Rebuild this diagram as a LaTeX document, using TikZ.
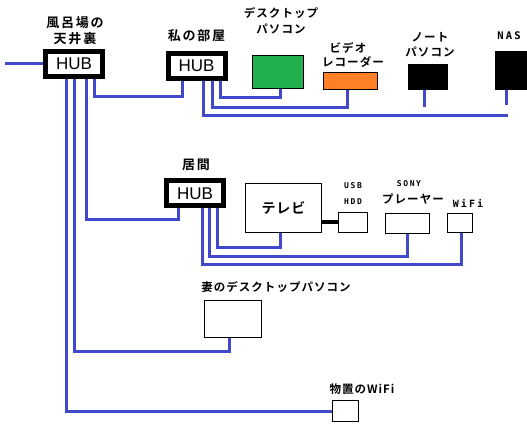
\documentclass[tikz,border=0pt]{standalone}
\usepackage{fontspec}
\setmainfont{Liberation Sans}
\newfontfamily\jpA[LetterSpace=14]{Noto Sans CJK JP Bold}
\newfontfamily\jpB[LetterSpace=9]{Noto Sans CJK JP Bold}
\newfontfamily\jpC[LetterSpace=6]{Noto Sans CJK JP Bold}
\newfontfamily\latf[LetterSpace=20]{DejaVu Sans Mono Bold}
\usetikzlibrary{calc}
\definecolor{netblue}{RGB}{64,72,204}
\definecolor{pcgreen}{RGB}{34,177,76}
\definecolor{vcrorange}{RGB}{255,127,39}
\begin{document}
\begin{tikzpicture}[x=1pt,y=-1pt,
  hub/.style={draw=black, fill=white, line width=5pt, minimum width=57pt, minimum height=25pt, inner sep=0pt, font=\fontsize{17}{17}\selectfont},
  dev/.style={draw=black, line width=1pt, inner sep=0pt, fill=white},
  net/.style={draw=netblue, line width=3pt},
  jlab/.style={inner sep=0pt, font=\jpA\fontsize{13}{13}\selectfont},
  klab/.style={inner sep=0pt, font=\jpB\fontsize{11.5}{11.5}\selectfont},
  elab/.style={inner sep=0pt, font=\latf\fontsize{8}{8}\selectfont},
]
\useasboundingbox[fill=white] (0,0) rectangle (527,430);

% hubs
\node[hub] (h1) at (74,64) {HUB};
\node[hub] (h2) at (196.5,66) {HUB};
\node[hub] (h3) at (195,193.5) {HUB};

% hub labels
\node[jlab] (l1a) at (75,23) {風呂場の};
\node[jlab] (l1b) at (75,39) {天井裏};
\node[jlab] (l2) at (196.5,36) {私の部屋};
\node[jlab] (l3) at (196,165) {居間};

% devices
\node[dev, fill=pcgreen, minimum width=51pt, minimum height=33pt] (green) at (278,72) {};
\node[dev, fill=vcrorange, minimum width=54pt, minimum height=17pt] (orange) at (350.5,81) {};
\node[dev, fill=black, minimum width=39pt, minimum height=25pt] (note) at (428,77) {};
\node[dev, fill=black, minimum width=40pt, minimum height=38pt] (nas) at (515,71) {};
\node[dev, minimum width=76pt, minimum height=49pt, font=\jpC\fontsize{14}{14}\selectfont] (tv) at (283.5,208) {テレビ};
\node[dev, minimum width=29pt, minimum height=20pt] (hdd) at (353,222.5) {};
\node[dev, minimum width=44pt, minimum height=20pt] (sony) at (407.5,223.5) {};
\node[dev, minimum width=25pt, minimum height=19pt] (wifi) at (460,223) {};
\node[dev, minimum width=57pt, minimum height=37pt] (wife) at (233,319) {};
\node[dev, minimum width=26pt, minimum height=21pt] (shed) at (345.5,411) {};

% device labels
\node[klab] (t1a) at (281,13) {デスクトップ};
\node[klab] (t1b) at (281,29) {パソコン};
\node[klab] (t2a) at (348,47.5) {ビデオ};
\node[klab] (t2b) at (353,62) {レコーダー};
\node[klab] (t3a) at (430,37.5) {ノート};
\node[klab] (t3b) at (430,52) {パソコン};
\node[elab, font=\latf\fontsize{10.5}{10.5}\selectfont] (t4) at (509,36) {NAS};
\node[elab] (t5a) at (353,186) {USB};
\node[elab] (t5b) at (353,202) {HDD};
\node[elab] (t6a) at (409,184) {SONY};
\node[klab] (t6b) at (413,199) {プレーヤー};
\node[elab, font=\latf\fontsize{10}{10}\selectfont] (t7) at (468,203) {WiFi};
\node[klab] (t8) at (276,287) {妻のデスクトップパソコン};
\node[klab] (t9) at (362,389) {物置のWiFi};

% free ends
\coordinate (inlet) at (5,64);
\coordinate (lanend) at (508,116);

% connectors
\draw[net] (inlet) -- (h1.west);
\draw[net] ($(h1.south)+(20,0)$) -- ++(0,18) -| ($(h2.south)+(-14.5,0)$);
\draw[net] ($(h1.south)+(12,0)$) -- ++(0,141) -| ($(h3.south)+(-17,0)$);
\draw[net] (h1.south) -- ++(0,272) -| ($(wife.south)+(-4,0)$);
\draw[net] ($(h1.south)+(-8,0)$) |- (shed.west);

\draw[net] ($(h2.south)+(23.5,0)$) -- ++(0,17) -| ($(green.south)+(2,0)$);
\draw[net] ($(h2.south)+(15.5,0)$) -- ++(0,27) -| ($(orange.south)+(-3.5,0)$);
\draw[net] ($(h2.south)+(6.5,0)$) |- (lanend);
\draw[net] ($(note.south)+(-4,0)$) -- ++(0,17);
\draw[net] ($(nas.south)+(-9,0)$) -- ++(0,15);

\draw[net] ($(h3.south)+(22,0)$) -- ++(0,39) -| ($(tv.south)+(-3.5,0)$);
\draw[net] ($(h3.south)+(14,0)$) -- ++(0,48) -| (sony.south);
\draw[net] ($(h3.south)+(7,0)$) -- ++(0,56) -| ($(wifi.south)+(1,0)$);
\draw[line width=4pt] (hdd.west -| tv.east) -- (hdd.west);
\end{tikzpicture}
\end{document}
